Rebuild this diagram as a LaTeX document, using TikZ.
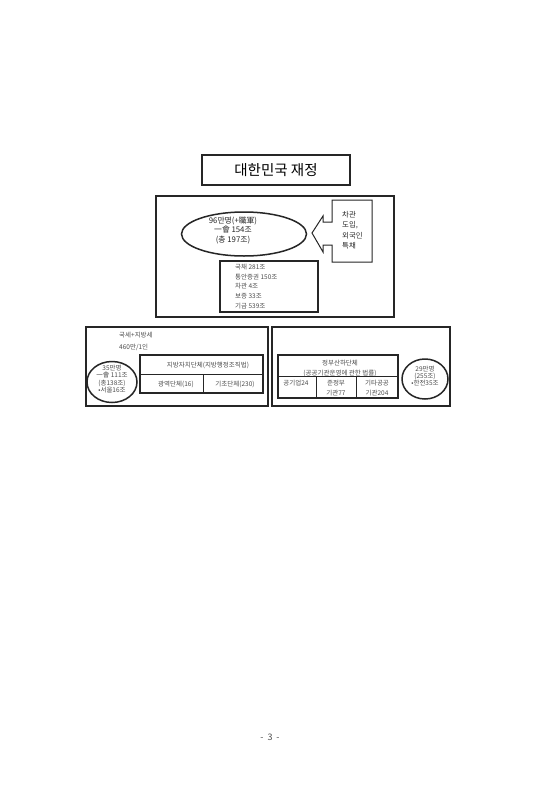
\documentclass[tikz,border=0pt]{standalone}
\usepackage{fontspec}
\usetikzlibrary{shapes.geometric}
\setmainfont{Noto Sans CJK KR}
\begin{document}
\begin{tikzpicture}[x=1pt,y=-1pt,
  frame/.style={draw=black!85,line width=1.5pt},
  thin/.style={draw=black!85,line width=1.0pt},
  tiny/.style={font=\fontsize{6.5}{7.5}\selectfont,text=black!70,inner sep=0pt},
  mid/.style={font=\fontsize{7.8}{9.5}\selectfont,text=black!85,inner sep=0pt,align=center},
]
\useasboundingbox[fill=white] (0,0) rectangle (542,800);
% title
\node[frame,minimum width=148pt,minimum height=30pt,inner sep=0pt,font=\fontsize{14.5}{16}\selectfont] (title) at (276,170) {대한민국 재정};
% main box
\draw[frame] (156,196) rectangle (394,317);
% ellipse
\node[draw=black!85,line width=1.5pt,ellipse,minimum width=125pt,minimum height=44pt,inner sep=0pt] (ell) at (244,234) {};
\node[mid] (elltxt) at (233,230) {96만명(+職軍)\\一會 154조\\(총 197조)};
% arrow callout
\draw[thin] (332,200) -- (372,200) -- (372,262) -- (332,262) -- (332,245) -- (323,245) -- (323,252) -- (312,233) -- (323,216) -- (323,222) -- (332,222) -- cycle;
\node[mid,align=left,anchor=north west,font=\fontsize{7.4}{10.5}\selectfont] (arrtxt) at (342,211) {차관\\도입,\\외국인\\특채};
% debt box
\draw[frame] (220,261) rectangle (318,312);
\node[tiny,align=left,anchor=north west,font=\fontsize{6.5}{9.7}\selectfont] (debt) at (235,264) {국채 281조\\통안증권 150조\\차관 4조\\보증 33조\\기금 539조};
% left bottom box
\draw[frame] (86,327) rectangle (268,406);
\node[tiny,anchor=west] (tax1) at (119,335) {국세+지방세};
\node[tiny,anchor=west] (tax2) at (119,347) {460만/1인};
\draw[frame] (140,355) rectangle (263,393);
\draw[thin] (140,374) -- (263,374);
\draw[thin] (203,374) -- (203,393);
\node[tiny] (lgov) at (208,365) {지방자치단체(지방행정조직법)};
\node[tiny] (lg1) at (176,384) {광역단체(16)};
\node[tiny] (lg2) at (235,384) {기초단체(230)};
\node[draw=black!85,line width=1.5pt,ellipse,minimum width=50pt,minimum height=41pt,inner sep=0pt] (lcirc) at (112,382) {};
\node[tiny,align=center,font=\fontsize{6.5}{7.3}\selectfont] (lctxt) at (112,379) {35만명\\一會 111조\\(총138조)\\•서울16조};
% right bottom box
\draw[frame] (272,327) rectangle (450,406);
\draw[frame] (278,355) rectangle (398,398);
\draw[thin] (278,376) -- (398,376);
\draw[thin] (316,376) -- (316,398);
\draw[thin] (356,376) -- (356,398);
\node[tiny,align=center,font=\fontsize{6.5}{10}\selectfont] (pub) at (340,368) {정부산하단체\\(공공기관운영에 관한 법률)};
\node[tiny] (p1) at (296,383) {공기업24};
\node[tiny,align=center,font=\fontsize{6.5}{10}\selectfont] (p2) at (336,388) {준정부\\기관77};
\node[tiny,align=center,font=\fontsize{6.5}{10}\selectfont] (p3) at (377,388) {기타공공\\기관204};
\node[draw=black!85,line width=1.5pt,ellipse,minimum width=46pt,minimum height=40pt,inner sep=0pt] (rcirc) at (425,379) {};
\node[tiny,align=center,font=\fontsize{6.5}{7.3}\selectfont] (rctxt) at (425,376) {29만명\\(255조)\\•한전35조};
% page number
\node[font=\fontsize{9}{10}\selectfont,text=black!70] (page) at (270,737) {-\hspace{4pt}3\hspace{4pt}-};
\end{tikzpicture}
\end{document}
